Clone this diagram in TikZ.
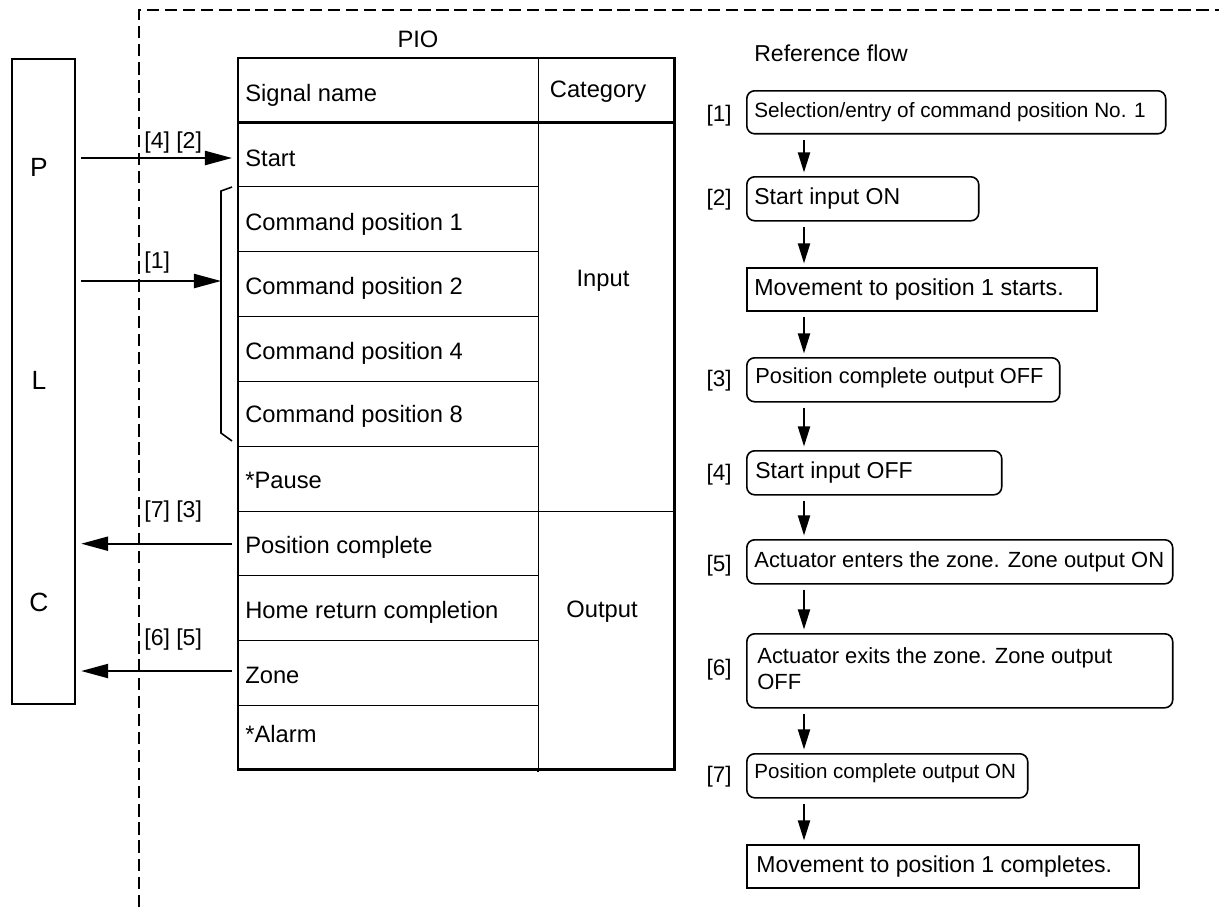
\documentclass[tikz,border=0pt]{standalone}
\usepackage{fontspec}
\setmainfont{Liberation Sans}
\usetikzlibrary{arrows.meta,calc}
\newcommand\fsT{\fontsize{13.5pt}{16pt}\selectfont}
\newcommand\fsL{\fontsize{13.1pt}{16pt}\selectfont}
\newcommand\fsB{\fontsize{15pt}{18pt}\selectfont}
\begin{document}
\begin{tikzpicture}[x=0.02cm,y=-0.02cm,
  txt/.style={inner sep=0pt,anchor=base west},
  ctxt/.style={inner sep=0pt,anchor=base},
  cell/.style={draw,line width=0.8pt,rectangle,inner sep=0pt,anchor=north west,minimum width=6cm},
  ccell/.style={draw,line width=0.8pt,rectangle,inner sep=0pt,anchor=north west,minimum width=2.7cm},
  fbox/.style={draw,line width=0.9pt,rounded corners=4.5pt,rectangle,inner sep=0pt,anchor=north west},
  rbox/.style={draw,line width=0.9pt,rectangle,inner sep=0pt,anchor=north west},
  larrow/.style={line width=1.2pt,-{Triangle[length=15.4pt,width=8pt]}},
  farrow/.style={line width=1.2pt,-{Triangle[length=11.4pt,width=6.8pt]},shorten <=2.8pt,shorten >=2pt},
  border/.style={line width=1.3pt,dash pattern=on 7pt off 3.3pt}]
\useasboundingbox (0,0) rectangle (1219,907);

% dashed boundary
\draw[border] (139,907) -- (139,10) -- (1219,10);

% PLC box
\node[draw,line width=1.3pt,rectangle,inner sep=0pt,anchor=north west,minimum width=1.26cm,minimum height=12.9cm] (plc) at (11,58) {};
\node[ctxt,font=\fsB] (lp) at (39,176) {P};
\node[ctxt,font=\fsB] (ll) at (39,389) {L};
\node[ctxt,font=\fsB] (lc) at (39,611) {C};

% PIO table
\node[ctxt,font=\fsT] (pio) at (418,47) {PIO};
\node[cell,minimum height=1.26cm] (rHead) at (238,58) {};
\node[cell,minimum height=1.3cm] (rStart) at (238,121) {};
\node[cell,minimum height=1.3cm] (rC1) at (238,186) {};
\node[cell,minimum height=1.3cm] (rC2) at (238,251) {};
\node[cell,minimum height=1.3cm] (rC4) at (238,316) {};
\node[cell,minimum height=1.3cm] (rC8) at (238,381) {};
\node[cell,minimum height=1.3cm] (rPause) at (238,446) {};
\node[cell,minimum height=1.28cm] (rPos) at (238,511) {};
\node[cell,minimum height=1.3cm] (rHome) at (238,575) {};
\node[cell,minimum height=1.3cm] (rZone) at (238,640) {};
\node[cell,minimum height=1.26cm] (rAlarm) at (238,705) {};
\node[ccell,minimum height=1.26cm] (cHead) at (538,58) {};
\node[ccell,minimum height=7.8cm] (cIn) at (538,121) {};
\node[ccell,minimum height=5.14cm] (cOut) at (538,511) {};
\draw[line width=1.5pt] (rHead.north west) rectangle (cOut.south east);
\draw[line width=1.5pt] (rHead.south west) -- (cHead.south east);
\draw[line width=0.8pt] (cOut.south west) -- ++(0,3);

\node[txt,font=\fsT] (tHead) at (245,101) {Signal name};
\node[txt,font=\fsT] (tStart) at (245,166) {Start};
\node[txt,font=\fsT] (tC1) at (245,230) {Command position 1};
\node[txt,font=\fsT] (tC2) at (245,294) {Command position 2};
\node[txt,font=\fsT] (tC4) at (245,359) {Command position 4};
\node[txt,font=\fsT] (tC8) at (245,422) {Command position 8};
\node[txt,font=\fsT] (tPause) at (245,488) {*Pause};
\node[txt,font=\fsT] (tPos) at (245,553) {Position complete};
\node[txt,font=\fsT] (tHome) at (245,618) {Home return completion};
\node[txt,font=\fsT] (tZone) at (245,683) {Zone};
\node[txt,font=\fsT] (tAlarm) at (245,742) {*Alarm};
\node[ctxt,font=\fsT] (tCat) at (598,97) {Category};
\node[ctxt,font=\fsT] (tIn) at (603,286) {Input};
\node[ctxt,font=\fsT] (tOut) at (602,617) {Output};

% bracket for command positions
\draw[line width=0.9pt] (232,187) -- (221,191) -- (221,433) -- (232,441);
\coordinate (brk) at (221,281);

% PLC <-> PIO arrows
\draw[larrow,shorten <=2.8pt,shorten >=3.4pt] (plc.east |- 0,158) -- (rStart.west |- 0,158);
\draw[larrow,shorten <=2.8pt] (plc.east |- brk) -- (brk);
\draw[larrow,shorten <=3.4pt,shorten >=2.8pt] (rPos.west) -- (plc.east |- rPos.west);
\draw[larrow,shorten <=3.4pt,shorten >=2.8pt] (rZone.west |- 0,671) -- (plc.east |- 0,671);
\node[txt,font=\fsL] (a1) at (144,148) {[4] [2]};
\node[txt,font=\fsL] (a2) at (144,268) {[1]};
\node[txt,font=\fsL] (a3) at (144,517) {[7] [3]};
\node[txt,font=\fsL] (a4) at (144,645) {[6] [5]};

% Reference flow
\node[txt,font=\fontsize{13.1pt}{16pt}\selectfont] (rf) at (754,61) {Reference flow};

\node[fbox,minimum width=8.38cm,minimum height=0.86cm] (b1) at (746,90) {};
\node[fbox,minimum width=4.64cm,minimum height=0.88cm] (b2) at (746,176) {};
\node[rbox,minimum width=7.0cm,minimum height=0.86cm] (b3) at (746,267) {};
\node[fbox,minimum width=6.26cm,minimum height=0.88cm] (b4) at (746,357) {};
\node[fbox,minimum width=5.1cm,minimum height=0.88cm] (b5) at (746,450) {};
\node[fbox,minimum width=8.52cm,minimum height=0.88cm] (b6) at (746,539) {};
\node[fbox,minimum width=8.52cm,minimum height=1.48cm] (b7) at (746,633) {};
\node[fbox,minimum width=5.62cm,minimum height=0.88cm] (b8) at (746,753) {};
\node[rbox,minimum width=7.84cm,minimum height=0.86cm] (b9) at (746,844) {};

\node[txt,font=\fontsize{11.8pt}{14pt}\selectfont] at (754,117) {Selection/entry of command position No. 1};
\node[txt,font=\fontsize{13.1pt}{16pt}\selectfont] at (754,204) {Start input ON};
\node[txt,font=\fontsize{13.2pt}{16pt}\selectfont] at (754,295) {Movement to position 1 starts.};
\node[txt,font=\fontsize{12.4pt}{15pt}\selectfont] at (755,383) {Position complete output OFF};
\node[txt,font=\fontsize{13.1pt}{16pt}\selectfont] at (755,478) {Start input OFF};
\node[txt,font=\fontsize{12.5pt}{15pt}\selectfont] at (754,567) {Actuator enters the zone. Zone output ON};
\node[txt,font=\fontsize{12.5pt}{15pt}\selectfont] at (757,663) {Actuator exits the zone. Zone output};
\node[txt,font=\fontsize{12.5pt}{15pt}\selectfont] at (757,689) {OFF};
\node[txt,font=\fontsize{11.7pt}{14pt}\selectfont] at (754,778) {Position complete output ON};
\node[txt,font=\fontsize{13.1pt}{16pt}\selectfont] at (756,872) {Movement to position 1 completes.};

\node[ctxt,font=\fontsize{12.8pt}{15pt}\selectfont] at (719,121) {[1]};
\node[ctxt,font=\fontsize{12.8pt}{15pt}\selectfont] at (719,205) {[2]};
\node[ctxt,font=\fontsize{12.8pt}{15pt}\selectfont] at (719,386) {[3]};
\node[ctxt,font=\fontsize{12.8pt}{15pt}\selectfont] at (719,480) {[4]};
\node[ctxt,font=\fontsize{12.8pt}{15pt}\selectfont] at (719,571) {[5]};
\node[ctxt,font=\fontsize{12.8pt}{15pt}\selectfont] at (719,675) {[6]};
\node[ctxt,font=\fontsize{12.8pt}{15pt}\selectfont] at (719,782) {[7]};

\foreach \u/\v in {b1/b2,b2/b3,b3/b4,b4/b5,b5/b6,b6/b7,b7/b8,b8/b9}
  \draw[farrow] ($(\u.south west)+(58,0)$) -- ($(\v.north west)+(58,0)$);
\end{tikzpicture}
\end{document}
